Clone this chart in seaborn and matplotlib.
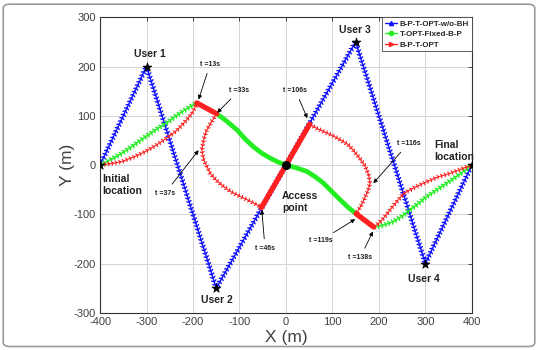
"""
UAV trajectories in the X-Y plane for three designs, with hover segments
and time annotations.
"""

import seaborn as sns
import matplotlib.pyplot as plt
import matplotlib.patheffects as pe
from matplotlib.lines import Line2D
from matplotlib.patches import FancyBboxPatch

# ---------------- data ----------------
user_x = [-300, -150, 150, 300]
user_y = [200, -250, 250, -200]
user_names = ["User 1", "User 2", "User 3", "User 4"]
user_label_x = [-292, -149, 149, 296]
user_label_y = [226, -274, 274, -232]

end_x = [-400, 400]
end_y = [0, 0]
ap_x = [0]
ap_y = [0]

# B-P-T-OPT-w/o-BH (blue)
blue_x = [-400, -300, -150, 150, 300, 400]
blue_y = [0, 200, -250, 250, -200, 0]

# T-OPT-Fixed-B-P (green)
green1_x = [-400, -375, -353, -328, -303, -278, -253, -235, -217, -204, -192]
green1_y = [0, 12, 24, 40, 57, 73, 88, 101, 112, 120, 126]
green2_x = [-149, -130, -105, -88, -70, -52, -34, -17, 0, 20, 45, 63, 81, 100, 117, 135, 151]
green2_y = [104, 91, 71, 53, 37, 24, 14, 6, 0, -5, -13, -24, -37, -55, -71, -87, -99]
green3_x = [189, 210, 231, 250, 267, 285, 303, 325, 346, 372, 400]
green3_y = [-126, -122, -115, -104, -91, -78, -64, -50, -37, -20, 0]

# B-P-T-OPT (red)
red1_x = [-400, -375, -353, -328, -303, -278, -253, -235, -217, -202, -192]
red1_y = [0, 3, 7, 16, 27, 41, 57, 70, 88, 105, 124]
red2_x = [-149, -162, -172, -177, -181, -177, -170, -163, -150, -134, -117, -98, -76, -54]
red2_y = [104, 85, 68, 51, 31, 10, -3, -17, -31, -44, -55, -64, -74, -85]
red3_x = [51, 65, 81, 100, 117, 133, 145, 160, 171, 178, 181, 177, 171, 162, 151]
red3_y = [83, 75, 68, 60, 51, 42, 30, 12, -3, -20, -37, -51, -64, -82, -99]
red4_x = [189, 200, 210, 230, 253, 278, 303, 328, 353, 375, 400]
red4_y = [-126, -118, -108, -84, -58, -45, -34, -24, -17, -9, 0]

# thick (hovering) parts
hover_red_x = [[-192, -149], [-53, 51], [151, 189]]
hover_red_y = [[126, 104], [-87, 83], [-99, -126]]

# time annotations: label, text position, arrow head
t_labels = ["t =13s", "t =33s", "t =37s", "t =46s", "t =106s", "t =116s", "t =119s", "t =138s"]
t_text_x = [-163, -100, -260, -45, 20, 264, 74, 160]
t_text_y = [205, 152, -57, -169, 152, 44, -154, -188]
t_head_x = [-188, -148, -188, -52, 46, 188, 149, 187]
t_head_y = [133, 106, 30, -91, 95, -37, -110, -135]

BLUE = "#1010ff"
GREEN = "#22ee22"
RED = "#ff2020"
TXT = "#222222"

sns.set_style("whitegrid")
plt.rcParams["font.family"] = ["Liberation Sans", "DejaVu Sans"]
plt.rcParams["axes.unicode_minus"] = False

fig = plt.figure(figsize=(5.38, 3.5), dpi=100)
ax = fig.add_axes([0.186, 0.1064, 0.691, 0.8443])


def teeth(spacing=2.6, length=0.7):
    # dense marker look along the path
    return [pe.TickedStroke(spacing=spacing, angle=120, length=length),
            pe.TickedStroke(spacing=spacing, angle=-120, length=length),
            pe.Normal()]


def path(xs, ys, color, lw, effects=None, z=2):
    sns.lineplot(x=xs, y=ys, sort=False, estimator=None, color=color,
                 linewidth=lw, path_effects=effects, zorder=z, ax=ax)


# blue trajectory
path(blue_x, blue_y, BLUE, 1.0, teeth(), z=2)

# green trajectory
path(green1_x, green1_y, GREEN, 1.0, teeth(), z=3)
path(green2_x, green2_y, GREEN, 3.4, None, z=3)
path(green3_x, green3_y, GREEN, 1.0, teeth(), z=3)

# red trajectory
for xs, ys in [(red1_x, red1_y), (red2_x, red2_y), (red3_x, red3_y), (red4_x, red4_y)]:
    path(xs, ys, RED, 0.8, teeth(length=0.6), z=4)
for xs, ys in zip(hover_red_x, hover_red_y):
    path(xs, ys, RED, 3.8, None, z=5)

# users, start / end points, access point
ax.scatter(user_x + end_x, user_y + end_y, marker="*", s=45, color="black", zorder=6, linewidths=0.5)
ax.scatter(ap_x, ap_y, marker="o", s=30, color="black", zorder=6)

for name, lx, ly in zip(user_names, user_label_x, user_label_y):
    ax.text(lx, ly, name, ha="center", va="center", fontsize=7.5, fontweight="bold", color=TXT)

ax.text(-396, -40, "Initial\nlocation", ha="left", va="center", fontsize=7.5,
        fontweight="bold", color=TXT, linespacing=1.25)
ax.text(-8, -76, "Access\npoint", ha="left", va="center", fontsize=7.5,
        fontweight="bold", color=TXT, linespacing=1.25)
ax.text(319, 29, "Final\nlocation", ha="left", va="center", fontsize=7.5,
        fontweight="bold", color=TXT, linespacing=1.25)

for lab, tx, ty, hx, hy in zip(t_labels, t_text_x, t_text_y, t_head_x, t_head_y):
    ax.annotate(lab, xy=(hx, hy), xytext=(tx, ty), ha="center", va="center",
                fontsize=5, fontweight="bold", color=TXT, zorder=7,
                arrowprops=dict(arrowstyle="-|>", color="black", lw=0.6,
                                mutation_scale=6, shrinkA=2, shrinkB=0))

# axes styling
ax.set_xlim(-400, 400)
ax.set_ylim(-300, 300)
ax.set_xticks(range(-400, 401, 100))
ax.set_yticks(range(-300, 301, 100))
ax.set_axisbelow(True)
ax.grid(True, color="#d4d4d4", linewidth=0.7)
for sp in ax.spines.values():
    sp.set_visible(True)
    sp.set_color("#333333")
    sp.set_linewidth(0.8)
ax.tick_params(direction="in", top=True, right=True, length=3, width=0.6,
               labelsize=8, colors="#333333", pad=3)
ax.tick_params(axis="both", labelcolor="#404040")
ax.set_xlabel("X (m)", fontsize=12.5, color="#404040", labelpad=2)
ax.set_ylabel("Y (m)", fontsize=12.5, color="#404040", labelpad=-1)

handles = [
    Line2D([], [], color=BLUE, marker="^", markersize=3, lw=1.0),
    Line2D([], [], color=GREEN, marker="o", markersize=3, lw=1.0),
    Line2D([], [], color=RED, marker=">", markersize=3, lw=1.0),
]
leg = ax.legend(handles, ["B-P-T-OPT-w/o-BH", "T-OPT-Fixed-B-P", "B-P-T-OPT"],
                loc="upper right", borderaxespad=0, fancybox=False,
                framealpha=1, edgecolor="#444444", handlelength=1.5,
                handletextpad=0.3, labelspacing=0.35, borderpad=0.35,
                prop={"size": 5.8, "weight": "bold"})
leg.get_frame().set_linewidth(0.6)

# rounded outer frame
fig.patches.append(FancyBboxPatch((0.006, 0.01), 0.988, 0.978,
                                  boxstyle="round,pad=0,rounding_size=0.012",
                                  transform=fig.transFigure, fill=False,
                                  edgecolor="#9a9a9a", linewidth=1.2))

plt.savefig("out.png", dpi=100)
